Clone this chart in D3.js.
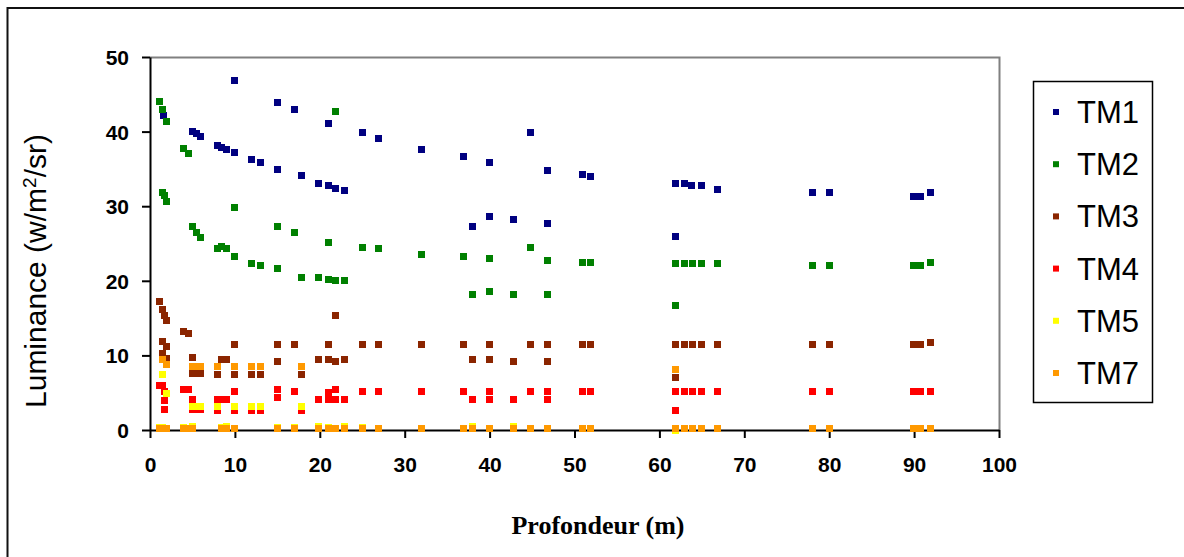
<!DOCTYPE html>
<html lang="fr">
<head>
    <meta charset="UTF-8">
    <title>Luminance / Profondeur</title>
    <script src="https://d3js.org/d3.v7.min.js"></script>
    <style>
        body {
            margin: 0;
            background-color: #fff;
        }
        .tick-label {
            font-family: "Liberation Sans", Arial, sans-serif;
            font-size: 21px;
            font-weight: bold;
            fill: #000;
        }
        .legend-label {
            font-family: "Liberation Sans", Arial, sans-serif;
            font-size: 31px;
            fill: #000;
        }
    </style>
</head>
<body>
    <div id="chart"></div>
    <script>
        const width = 1184;
        const height = 557;

        // x ticks / y ticks
        const xTicks = [0, 10, 20, 30, 40, 50, 60, 70, 80, 90, 100];
        const yTicks = [0, 10, 20, 30, 40, 50];

        const seriesNames = ["TM1", "TM2", "TM3", "TM4", "TM5", "TM7"];
        const seriesColors = ["#000080", "#008000", "#8b2500", "#ff0000", "#ffff00", "#ff9900"];

        // [profondeur, luminance]
        const tm1 = [[1.6, 42.1], [5.0, 40.0], [5.5, 39.7], [6.0, 39.3], [7.9, 38.1], [8.4, 37.9], [9.0, 37.6],
            [10.0, 37.2], [10.0, 46.9], [12.0, 36.3], [13.0, 35.8], [15.0, 43.9], [15.0, 34.9], [17.0, 42.9],
            [17.9, 34.1], [19.9, 33.1], [21.0, 41.1], [21.0, 32.8], [21.9, 32.4], [22.9, 32.1], [25.0, 39.9],
            [26.9, 39.1], [32.0, 37.6], [36.9, 36.6], [38.0, 27.3], [40.0, 35.8], [40.0, 28.6], [42.8, 28.2],
            [44.8, 39.9], [46.8, 34.8], [46.8, 27.7], [51.0, 34.3], [51.9, 34.0], [61.9, 33.1], [61.9, 26.0],
            [62.9, 33.1], [63.8, 32.8], [64.9, 32.8], [66.9, 32.3], [78.0, 31.8], [80.0, 31.8], [89.9, 31.3],
            [90.8, 31.3], [91.9, 31.8]];

        const tm2 = [[1.1, 44.1], [1.5, 42.9], [1.9, 41.4], [4.0, 37.8], [4.5, 37.1], [1.5, 31.9], [1.7, 31.4],
            [2.0, 30.6], [5.0, 27.3], [5.5, 26.5], [6.0, 25.8], [7.9, 24.3], [8.4, 24.6], [9.0, 24.3], [10.0, 29.8],
            [10.0, 23.2], [12.0, 22.3], [13.0, 22.0], [15.0, 27.3], [15.0, 21.7], [17.0, 26.5], [17.9, 20.5],
            [19.9, 20.5], [21.0, 25.2], [21.0, 20.2], [21.9, 42.7], [21.9, 20.0], [22.9, 20.0], [25.0, 24.5],
            [26.9, 24.3], [32.0, 23.5], [36.9, 23.2], [38.0, 18.2], [40.0, 23.0], [40.0, 18.5], [42.8, 18.2],
            [44.8, 24.5], [46.8, 22.7], [46.8, 18.2], [51.0, 22.5], [51.9, 22.5], [61.9, 22.3], [61.9, 16.7],
            [62.9, 22.3], [63.9, 22.3], [64.9, 22.3], [66.9, 22.3], [78.0, 22.0], [80.0, 22.0], [89.9, 22.0],
            [90.8, 22.0], [91.9, 22.5]];

        const tm3 = [[1.1, 17.2], [1.5, 16.1], [1.7, 15.4], [2.0, 14.7], [4.0, 13.2], [4.5, 12.9], [1.5, 11.9],
            [2.0, 11.2], [1.5, 10.3], [2.0, 9.6], [5.0, 9.7], [5.0, 7.6], [5.5, 7.6], [6.0, 7.6], [7.9, 7.5],
            [8.4, 9.5], [9.0, 9.5], [10.0, 11.4], [10.0, 7.5], [12.0, 7.5], [13.0, 7.5], [15.0, 11.4], [15.0, 9.2],
            [17.0, 11.4], [17.9, 7.5], [19.9, 9.5], [21.0, 11.4], [21.0, 9.5], [21.9, 15.4], [21.9, 9.2],
            [22.9, 9.5], [25.0, 11.4], [26.9, 11.4], [32.0, 11.4], [36.9, 11.4], [38.0, 9.4], [40.0, 11.4],
            [40.0, 9.4], [42.8, 9.2], [44.8, 11.4], [46.8, 11.4], [46.8, 9.2], [51.0, 11.4], [51.9, 11.4],
            [61.9, 11.4], [61.9, 7.1], [62.9, 11.4], [63.9, 11.4], [64.9, 11.4], [66.9, 11.4], [78.0, 11.4],
            [80.0, 11.4], [89.9, 11.4], [90.8, 11.4], [91.9, 11.7]];

        const tm4 = [[1.1, 6.0], [1.5, 5.9], [1.7, 5.1], [1.7, 4.0], [1.7, 2.7], [4.0, 5.4], [4.5, 5.4], [5.0, 4.1],
            [5.0, 2.7], [5.5, 2.7], [6.0, 2.7], [7.9, 4.1], [8.4, 4.1], [9.0, 4.1], [7.9, 2.6], [10.0, 5.1],
            [10.0, 2.6], [12.0, 2.6], [13.0, 2.6], [15.0, 5.4], [15.0, 4.4], [17.0, 5.1], [17.9, 2.6], [19.9, 4.1],
            [21.0, 5.0], [21.0, 4.1], [21.9, 5.4], [21.9, 4.1], [22.9, 4.1], [25.0, 5.1], [26.9, 5.1], [32.0, 5.1],
            [36.9, 5.1], [38.0, 4.1], [40.0, 5.1], [40.0, 4.1], [42.8, 4.1], [44.8, 5.1], [46.8, 5.1], [46.8, 4.1],
            [51.0, 5.1], [51.9, 5.1], [61.9, 5.1], [61.9, 2.6], [62.9, 5.1], [63.9, 5.1], [64.9, 5.1], [66.9, 5.1],
            [78.0, 5.1], [80.0, 5.1], [89.9, 5.1], [90.8, 5.1], [91.9, 5.1]];

        const tm5 = [[1.5, 7.5], [2.0, 4.9], [5.0, 3.1], [5.5, 3.1], [6.0, 3.1], [7.9, 3.1], [10.0, 3.1],
            [12.0, 3.1], [13.0, 3.1], [17.9, 3.1], [1.1, 0.3], [1.5, 0.3], [4.0, 0.3], [5.0, 0.5], [8.4, 0.3],
            [9.0, 0.5], [15.0, 0.3], [17.0, 0.3], [19.9, 0.5], [21.0, 0.3], [22.9, 0.5], [25.0, 0.3], [38.0, 0.5],
            [42.8, 0.5], [61.9, 0.0]];

        const tm7 = [[1.5, 9.4], [2.0, 8.8], [5.0, 8.5], [5.5, 8.5], [6.0, 8.5], [7.9, 8.5], [10.0, 8.5],
            [12.0, 8.5], [13.0, 8.5], [17.9, 8.5], [61.9, 8.1], [1.1, 0.25], [1.5, 0.25], [2.0, 0.25], [4.0, 0.25],
            [4.5, 0.25], [5.0, 0.25], [8.4, 0.25], [9.0, 0.25], [10.0, 0.25], [15.0, 0.25], [17.0, 0.25],
            [19.9, 0.25], [21.0, 0.25], [21.9, 0.25], [22.9, 0.25], [25.0, 0.25], [26.9, 0.25], [32.0, 0.25],
            [36.9, 0.25], [38.0, 0.25], [40.0, 0.25], [42.8, 0.25], [44.8, 0.25], [46.8, 0.25], [51.0, 0.25],
            [51.9, 0.25], [61.9, 0.25], [62.9, 0.25], [63.9, 0.25], [64.9, 0.25], [66.9, 0.25], [78.0, 0.25],
            [80.0, 0.25], [89.9, 0.25], [90.8, 0.25], [91.9, 0.25]];

        const allSeries = [tm1, tm2, tm3, tm4, tm5, tm7];

        const plot = { left: 150, right: 999, top: 57, bottom: 430 };

        const x = d3.scaleLinear().domain([0, 100]).range([plot.left, plot.right]);
        const y = d3.scaleLinear().domain([0, 50]).range([plot.bottom, plot.top]);

        const svg = d3.select("#chart")
            .append("svg")
            .attr("width", width)
            .attr("height", height);

        // outer chart frame (runs off the right and bottom)
        svg.append("rect")
            .attr("x", 7.5)
            .attr("y", 8)
            .attr("width", width + 20)
            .attr("height", height + 20)
            .attr("fill", "none")
            .attr("stroke", "#111")
            .attr("stroke-width", 2);

        // plot area: grey top and right border
        svg.append("path")
            .attr("d", `M${plot.left},${plot.top + 0.5}H${plot.right + 0.5}V${plot.bottom}`)
            .attr("fill", "none")
            .attr("stroke", "#808080")
            .attr("stroke-width", 2);

        // y axis
        const yAxis = svg.append("g")
            .attr("transform", `translate(${plot.left},0)`)
            .call(d3.axisLeft(y).tickValues(yTicks).tickSize(8).tickPadding(13).tickSizeOuter(0));

        // x axis
        const xAxis = svg.append("g")
            .attr("transform", `translate(0,${plot.bottom})`)
            .call(d3.axisBottom(x).tickValues(xTicks).tickSize(8).tickPadding(19).tickSizeOuter(0));

        [xAxis, yAxis].forEach(ax => {
            ax.select(".domain").attr("stroke", "#000").attr("stroke-width", 2);
            ax.selectAll(".tick line").attr("stroke", "#000").attr("stroke-width", 2);
            ax.selectAll(".tick text").attr("class", "tick-label");
        });
        yAxis.selectAll(".tick text").attr("dy", "0.36em");

        // markers
        const markerSize = 7;
        allSeries.forEach((pts, i) => {
            svg.append("g")
                .selectAll("rect")
                .data(pts)
                .enter()
                .append("rect")
                .attr("x", d => Math.round(x(d[0]) - markerSize / 2))
                .attr("y", d => Math.round(y(d[1]) - markerSize / 2))
                .attr("width", markerSize)
                .attr("height", markerSize)
                .attr("fill", seriesColors[i])
                .attr("shape-rendering", "crispEdges");
        });

        // axis titles
        svg.append("text")
            .attr("x", 598)
            .attr("y", 534)
            .attr("text-anchor", "middle")
            .style("font-family", "'Liberation Serif', 'Times New Roman', serif")
            .style("font-weight", "bold")
            .style("font-size", "26px")
            .text("Profondeur (m)");

        svg.append("text")
            .attr("transform", "translate(46,271) rotate(-90)")
            .attr("text-anchor", "middle")
            .style("font-family", "'Liberation Sans', Arial, sans-serif")
            .style("font-size", "30px")
            .html("Luminance (w/m<tspan baseline-shift='super' font-size='19px'>2</tspan>/sr)");

        // legend
        const legend = svg.append("g");
        legend.append("rect")
            .attr("x", 1033.5)
            .attr("y", 81.5)
            .attr("width", 119)
            .attr("height", 321)
            .attr("fill", "#fff")
            .attr("stroke", "#000")
            .attr("stroke-width", 1.5);

        const legendY = d3.scalePoint().domain(seriesNames).range([112, 373]);
        const items = legend.selectAll(".item")
            .data(seriesNames)
            .enter()
            .append("g")
            .attr("transform", d => `translate(0,${legendY(d)})`);

        items.append("rect")
            .attr("x", 1053)
            .attr("y", -3)
            .attr("width", 6)
            .attr("height", 6)
            .attr("fill", (d, i) => seriesColors[i]);

        items.append("text")
            .attr("class", "legend-label")
            .attr("x", 1077)
            .attr("y", 11)
            .text(d => d);
    </script>
</body>
</html>
